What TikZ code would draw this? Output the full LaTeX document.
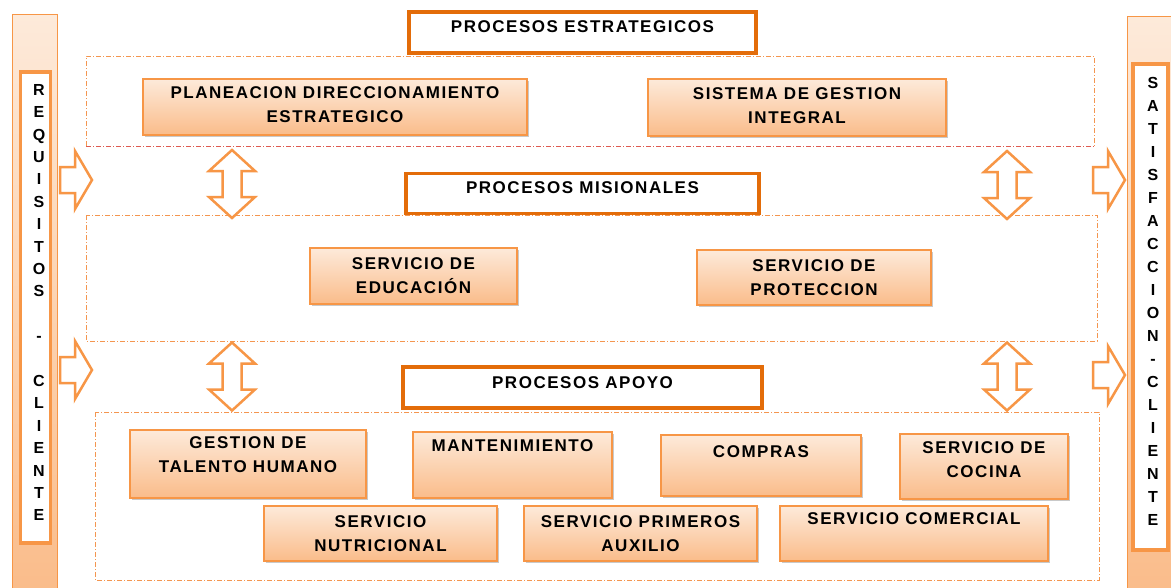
\documentclass[tikz,border=0pt]{standalone}
\usepackage{fontspec}
\setmainfont{Liberation Sans}
\newfontfamily\boxfont{Liberation Sans}[LetterSpace=9]
\usetikzlibrary{shadows}
\definecolor{boxtop}{RGB}{253,234,218}
\definecolor{boxbot}{RGB}{250,188,138}
\definecolor{boxedge}{RGB}{247,150,70}
\definecolor{titleedge}{RGB}{227,108,9}
\definecolor{frameor}{RGB}{244,150,80}
\definecolor{framered}{RGB}{222,90,80}
\newcommand\xtra[1]{\\[#1]\mbox{}}
\tikzset{
  pbox/.style={draw=boxedge, line width=1.2pt, top color=boxtop, bottom color=boxbot,
    drop shadow={shadow xshift=1.5pt, shadow yshift=-1.5pt, opacity=0.35, fill=black!60},
    inner sep=0pt, align=center, text=black,
    font=\fontsize{17}{24}\boxfont\bfseries},
  tbox/.style={draw=titleedge, line width=3.5pt, fill=white,
    drop shadow={shadow xshift=1.5pt, shadow yshift=-1.5pt, opacity=0.3, fill=black!60},
    inner sep=0pt, align=center, text=black,
    font=\fontsize{17}{24}\boxfont\bfseries},
  sidebar/.style={draw=boxedge, line width=0.8pt, top color=boxtop, bottom color=boxbot, inner sep=0pt},
  letterbox/.style={draw=boxedge, line width=3.5pt, fill=white, inner sep=0pt},
  letters/.style={inner sep=0pt, align=center, text=black},
  frame/.style={draw=frameor, line width=0.9pt, dash pattern=on 5pt off 2pt on 1pt off 2pt},
  blockarrow/.style={draw=boxedge, line width=2.5pt, fill=white, line join=miter},
  rarrow/.pic={\path[blockarrow] (0,-13) -- (15,-13) -- (15,-29) -- (32,0) -- (15,29) -- (15,13) -- (0,13) -- cycle;},
  udarrow/.pic={\path[blockarrow] (0,-34) -- (23,-13) -- (9.5,-13) -- (9.5,13) -- (23,13) -- (0,34) -- (-23,13) -- (-9.5,13) -- (-9.5,-13) -- (-23,-13) -- cycle;}
}
\begin{document}
\begin{tikzpicture}[x=1pt,y=-1pt]
\useasboundingbox (0,0) rectangle (1171,587);
\fill[white] (0,0) rectangle (1171,587);

% group frames
\draw[frame] (86,146) -- (86,56) -- (1094,56) -- (1094,146);
\draw[frame, draw=framered] (86,146) -- (1094,146);
\draw[frame] (86,215) rectangle (1097,341);
\draw[frame] (95,412) rectangle (1099,580);

% side bars
\node[sidebar, minimum width=45, minimum height=580] (lbar) at (34.5,304) {};
\node[letterbox, minimum width=30, minimum height=471] (lreq) at (35.5,307.5) {};
\node[letters, font=\fontsize{16}{22.4}\selectfont\bfseries] (lreqt) at (39,302.5)
  {R\\E\\Q\\U\\I\\S\\I\\T\\O\\S\\\mbox{}\\-\\\mbox{}\\C\\L\\I\\E\\N\\T\\E};
\node[sidebar, minimum width=46, minimum height=578] (rbar) at (1150,305) {};
\node[letterbox, minimum width=35, minimum height=486] (rsat) at (1150.5,307) {};
\node[letters, font=\fontsize{16}{23}\selectfont\bfseries] (rsatt) at (1153,301.5)
  {S\\A\\T\\I\\S\\F\\A\\C\\C\\I\\O\\N\\-\\C\\L\\I\\E\\N\\T\\E};

% title boxes
\node[tbox, minimum width=347, minimum height=41] (t1) at (582.5,32.5) {PROCESOS ESTRATEGICOS\xtra{-13pt}};
\node[tbox, minimum width=353, minimum height=40] (t2) at (582.5,193.5) {PROCESOS MISIONALES\xtra{-13pt}};
\node[tbox, minimum width=359, minimum height=41] (t3) at (582.5,387.5) {PROCESOS APOYO\xtra{-15pt}};

% process boxes
\node[pbox, minimum width=384, minimum height=56] (b1) at (335,107) {PLANEACION DIRECCIONAMIENTO\\ESTRATEGICO\xtra{-20pt}};
\node[pbox, minimum width=298, minimum height=57] (b2) at (797,107.5) {SISTEMA DE GESTION\\INTEGRAL\xtra{-20pt}};
\node[pbox, minimum width=207, minimum height=56] (b3) at (413.5,276) {SERVICIO DE\\EDUCACIÓN};
\node[pbox, minimum width=234, minimum height=55] (b4) at (814,277.5) {SERVICIO DE\\PROTECCION};
\node[pbox, minimum width=236, minimum height=68] (b5) at (248,464) {GESTION DE\\TALENTO HUMANO\xtra{-6pt}};
\node[pbox, minimum width=199, minimum height=66] (b6) at (512.5,465) {MANTENIMIENTO\xtra{14pt}};
\node[pbox, minimum width=200, minimum height=61] (b7) at (761,465.5) {COMPRAS\xtra{3pt}};
\node[pbox, minimum width=168, minimum height=65] (b8) at (984,466.5) {SERVICIO DE\\COCINA\xtra{-11pt}};
\node[pbox, minimum width=233, minimum height=55] (b9) at (380.5,533.5) {SERVICIO\\NUTRICIONAL};
\node[pbox, minimum width=233, minimum height=55] (b10) at (640.5,533.5) {SERVICIO PRIMEROS\\AUXILIO};
\node[pbox, minimum width=268, minimum height=55] (b11) at (914,533.5) {SERVICIO COMERCIAL\xtra{5pt}};

% block arrows
\pic at (60,180) {rarrow};
\pic at (60,370) {rarrow};
\pic at (1093,180) {rarrow};
\pic at (1093,375) {rarrow};
\pic at (232,184) {udarrow};
\pic at (232,376.5) {udarrow};
\pic at (1007,185) {udarrow};
\pic at (1007,376.5) {udarrow};
\end{tikzpicture}
\end{document}
